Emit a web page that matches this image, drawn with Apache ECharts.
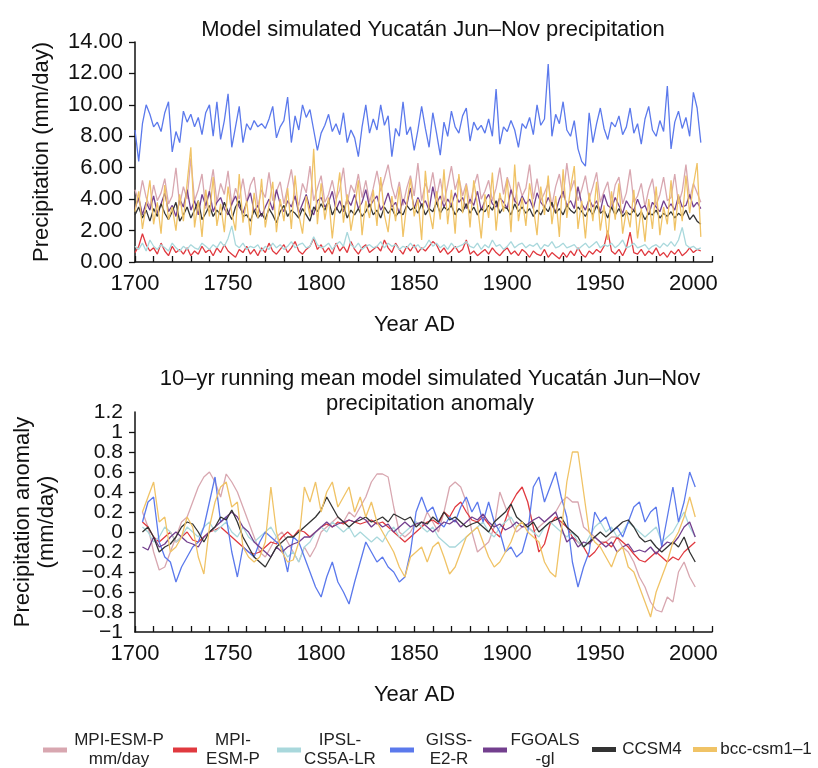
<!DOCTYPE html>
<html>
<head>
<meta charset="utf-8">
<title>Yucatán Jun-Nov precipitation</title>
<script src="https://cdn.jsdelivr.net/npm/echarts@6/dist/echarts.min.js"></script>
<style>
html, body { margin: 0; padding: 0; background: #fff; }
#main { width: 818px; height: 768px; }
</style>
</head>
<body>
<div id="main"></div>
<script>
/***
 * Model simulated Yucatán Jun-Nov precipitation (two panels)
 */

var seriesNames = ['MPI-ESM-P mm/day', 'MPI-ESM-P', 'IPSL-CS5A-LR', 'GISS-E2-R', 'FGOALS-gl', 'CCSM4', 'bcc-csm1-1'];
var legendLines = [['MPI-ESM-P', 'mm/day'], ['MPI-', 'ESM-P'], ['IPSL-', 'CS5A-LR'], ['GISS-', 'E2-R'], ['FGOALS', '-gl'], ['CCSM4'], ['bcc-csm1–1']];
var lineColors = ['#d8a7b0', '#e0393f', '#a9d8dc', '#5b79ec', '#733f8e', '#333333', '#f0c366'];

// years of the upper panel (every 2nd year)
var topYears = [
  1700,1702,1704,1706,1708, 1710,1712,1714,1716,1718, 1720,1722,1724,1726,1728, 1730,1732,1734,1736,1738,
  1740,1742,1744,1746,1748, 1750,1752,1754,1756,1758, 1760,1762,1764,1766,1768, 1770,1772,1774,1776,1778,
  1780,1782,1784,1786,1788, 1790,1792,1794,1796,1798, 1800,1802,1804,1806,1808, 1810,1812,1814,1816,1818,
  1820,1822,1824,1826,1828, 1830,1832,1834,1836,1838, 1840,1842,1844,1846,1848, 1850,1852,1854,1856,1858,
  1860,1862,1864,1866,1868, 1870,1872,1874,1876,1878, 1880,1882,1884,1886,1888, 1890,1892,1894,1896,1898,
  1900,1902,1904,1906,1908, 1910,1912,1914,1916,1918, 1920,1922,1924,1926,1928, 1930,1932,1934,1936,1938,
  1940,1942,1944,1946,1948, 1950,1952,1954,1956,1958, 1960,1962,1964,1966,1968, 1970,1972,1974,1976,1978,
  1980,1982,1984,1986,1988, 1990,1992,1994,1996,1998, 2000,2002,2004
];

// Jun-Nov precipitation, mm/day
var topMpiMm = [
  4.6,3.8,5.2,4.1,3.5, 4.9,3.9,4.4,5.3,3.7, 4.2,6.0,3.6,4.8,4.0, 6.6,3.9,4.6,5.6,3.4,
  4.5,5.9,3.8,5.0,4.3, 5.8,3.6,4.7,4.0,5.3, 3.8,4.9,5.4,3.5,4.6, 4.1,5.7,3.9,4.5,5.1,
  3.7,4.8,5.9,4.2,3.6, 5.0,4.4,6.1,3.9,4.7, 5.5,3.8,4.3,5.2,4.0, 4.6,6.0,3.7,4.9,4.4,
  5.6,4.1,5.2,3.8,4.7, 5.8,4.5,5.3,6.2,4.8, 4.0,5.1,3.6,4.7,5.5, 4.2,6.3,3.9,5.0,4.4,
  5.7,4.1,5.3,3.8,4.9, 6.1,4.6,5.4,4.2,5.0, 3.7,4.8,5.6,4.0,4.5, 5.2,3.9,4.7,6.0,4.3,
  5.4,4.6,3.8,5.1,4.2, 4.7,6.2,4.0,5.3,3.9, 4.4,5.0,3.6,4.8,5.6, 4.1,6.3,4.5,5.2,3.9,
  4.6,5.5,4.0,4.8,5.7, 3.8,4.5,5.1,3.6,4.9, 5.4,3.7,4.4,5.9,3.8, 4.2,5.0,3.5,4.6,5.3,
  3.6,4.3,5.4,3.9,4.1, 5.6,3.7,4.5,6.2,4.0, 5.0,4.4,3.8
];
var topMpi = [
  0.6,1.0,1.8,1.1,0.7, 0.9,0.5,1.2,0.7,0.4, 1.0,0.6,0.8,0.5,0.9, 0.4,0.7,0.5,1.0,0.6,
  0.8,0.4,0.9,0.6,1.1, 0.7,0.5,0.3,0.8,0.6, 1.0,0.5,0.8,0.4,0.9, 0.6,1.2,0.7,0.5,0.8,
  1.1,0.6,0.9,1.3,0.7, 0.5,0.8,1.0,1.5,0.8, 1.1,0.6,0.9,0.5,1.2, 0.7,1.0,0.6,1.3,0.8,
  0.5,0.9,1.1,0.6,0.8, 1.0,0.7,1.4,0.9,0.6, 1.2,0.8,0.5,1.0,0.7, 1.1,0.6,0.9,0.7,1.0,
  1.3,1.1,0.6,0.9,0.5, 0.7,1.0,0.6,0.8,1.4, 0.5,0.7,0.4,0.6,0.8, 0.5,0.9,0.6,0.4,0.7,
  0.9,0.5,0.7,0.4,0.8, 0.6,0.3,0.7,0.5,0.4, 0.8,0.3,0.6,0.4,0.2, 0.6,0.3,0.7,0.4,0.9,
  0.5,0.3,0.7,0.5,0.8, 0.6,1.0,2.0,0.7,0.5, 0.8,0.4,0.9,1.9,0.6, 0.5,0.8,0.4,0.7,0.5,
  0.9,0.4,0.6,0.3,0.7, 0.5,0.8,0.4,0.6,0.9, 0.6,0.8,0.7
];
var topIpsl = [
  1.0,0.8,1.2,0.7,1.4, 1.0,0.8,1.1,0.9,0.7, 1.2,0.9,0.7,1.0,0.8, 1.1,0.9,0.8,1.2,1.0,
  0.8,1.1,0.9,1.3,1.0, 1.5,2.3,1.1,0.9,1.2, 0.8,1.0,0.9,1.1,0.7, 1.0,0.8,1.2,0.9,1.1,
  0.8,1.0,1.3,0.9,1.1, 1.2,0.9,1.0,1.6,1.1, 0.9,1.0,1.2,0.8,1.1, 1.3,1.0,1.9,1.1,0.9,
  1.2,0.8,1.0,1.1,0.9, 1.0,1.3,0.9,1.2,1.0, 1.1,0.8,1.0,0.9,1.2, 0.9,1.1,0.8,1.0,1.4,
  1.0,1.2,0.9,1.1,0.8, 1.2,0.9,1.0,1.1,1.3, 1.0,0.9,1.2,0.8,1.1, 0.9,1.4,1.0,1.1,0.8,
  1.0,1.3,0.9,1.1,1.2, 0.9,1.1,1.0,1.2,0.8, 1.1,1.0,1.3,0.9,1.0, 1.2,0.9,1.0,1.1,0.8,
  1.0,1.2,0.9,1.1,1.3, 0.9,1.1,1.0,1.2,0.9, 1.1,1.4,0.9,1.0,1.2, 0.9,1.0,1.1,0.8,1.0,
  1.1,0.9,1.2,1.0,1.3, 1.0,1.4,2.2,1.1,0.9, 1.0,0.8,0.9
];
var topGiss = [
  8.4,6.4,8.8,10.0,9.4, 8.6,8.9,8.3,9.5,10.2, 7.0,8.3,7.6,9.6,8.9, 9.4,8.6,9.2,8.1,9.5,
  10.0,8.0,10.2,7.8,9.0, 10.7,7.3,8.6,9.9,7.6, 8.8,8.4,9.0,8.6,8.8, 8.5,9.1,9.9,7.9,8.6,
  9.0,10.5,7.6,9.3,8.4, 10.0,9.2,9.7,8.4,7.1, 8.2,8.7,9.4,8.3,8.8, 8.1,9.5,7.6,8.4,7.9,
  6.7,8.6,10.0,8.2,9.1, 8.4,10.0,8.7,9.3,6.7, 8.5,8.0,10.2,8.1,8.6, 7.1,8.4,9.9,8.5,7.3,
  9.5,8.2,6.8,8.9,8.0, 9.6,8.6,8.2,9.3,9.8, 7.7,8.9,8.4,8.7,8.2, 9.1,8.0,11.0,7.5,8.6,
  8.3,9.0,8.4,7.3,8.8, 8.5,9.2,8.1,10.0,8.7, 9.1,12.6,8.0,9.4,8.8, 10.2,8.4,8.0,9.0,7.2,
  6.4,6.1,9.5,7.6,8.8, 9.8,8.5,7.8,8.9,8.6, 9.3,8.1,8.6,9.8,8.2, 8.8,7.5,9.1,9.9,8.4,
  8.0,9.0,8.3,11.2,7.2, 8.9,9.6,8.5,9.2,8.0, 10.8,9.8,7.6
];
var topFgoals = [
  3.4,4.1,3.0,3.8,3.3, 4.2,3.1,3.7,4.4,3.2, 3.6,2.9,4.0,3.5,4.6, 3.3,3.9,3.0,4.3,3.6,
  4.5,3.2,3.8,4.1,3.4, 3.0,3.7,4.2,3.5,3.1, 3.8,4.4,3.2,3.6,2.9, 3.5,4.0,3.3,4.6,3.7,
  3.2,3.9,3.5,4.2,3.1, 3.7,4.3,3.4,3.0,3.9, 4.1,3.5,3.8,4.5,3.3, 3.9,3.2,4.0,3.6,4.3,
  3.4,3.8,4.6,3.5,3.9, 4.2,3.3,3.7,4.4,3.5, 3.8,3.1,4.0,3.6,4.7, 3.4,4.1,3.6,3.9,3.3,
  4.8,3.7,4.2,3.5,4.0, 3.6,4.4,3.8,4.1,3.4, 4.0,3.6,4.5,3.3,3.9, 4.3,3.7,3.5,4.1,3.8,
  3.4,4.6,3.9,3.6,4.2, 3.7,4.0,3.4,4.4,3.8, 3.5,4.1,3.6,3.2,4.0, 4.5,3.6,3.9,3.4,4.8,
  3.7,3.3,4.0,3.5,3.9, 3.2,4.3,3.6,3.4,4.1, 3.6,3.1,3.9,3.5,3.3, 4.0,3.4,3.6,3.0,3.8,
  3.5,3.2,3.9,3.4,3.7, 3.3,4.2,3.5,3.6,4.3, 3.5,3.8,3.4
];
var topCcsm4 = [
  3.0,3.5,2.8,3.3,2.6, 3.4,2.9,3.7,3.1,2.7, 3.2,3.8,2.6,3.0,3.5, 2.8,3.3,3.9,2.7,3.1,
  3.6,2.9,3.3,3.0,3.8, 3.2,2.7,3.5,3.9,2.9, 3.0,2.6,3.3,2.8,3.1, 2.7,3.4,3.0,2.5,3.2,
  3.6,2.9,3.3,3.1,2.8, 3.4,3.0,2.6,3.5,3.2, 3.7,3.3,3.9,3.0,3.5, 3.1,3.6,2.8,3.3,3.0,
  3.4,2.9,3.2,3.7,3.0, 3.3,2.8,3.5,3.1,3.4, 2.9,3.2,3.0,3.6,3.3, 3.5,3.1,3.7,3.0,3.4,
  3.2,3.8,3.1,3.5,3.3, 3.6,3.0,3.4,3.2,3.7, 3.1,3.5,3.0,3.4,3.2, 3.6,3.3,3.9,3.1,3.5,
  3.4,3.0,3.7,3.2,3.5, 3.1,3.4,2.9,3.3,3.0, 3.5,3.2,3.8,3.1,3.4, 3.0,3.6,3.3,3.1,3.5,
  3.2,2.9,3.4,3.0,3.6, 3.1,3.3,2.8,3.5,3.0, 3.4,2.9,3.2,3.0,3.3, 2.9,3.2,2.7,3.1,3.0,
  3.3,2.8,3.1,2.9,3.2, 2.8,3.1,2.9,3.3,2.7, 3.0,2.6,2.4
];
var topBcc = [
  3.2,4.5,2.1,3.6,5.2, 2.4,3.8,1.8,4.9,2.7, 3.5,2.0,4.3,2.6,5.0, 7.3,2.2,3.9,1.6,4.6,
  2.9,5.4,2.3,3.7,1.9, 4.8,3.1,2.0,5.6,2.5, 3.9,1.7,4.4,2.8,5.3, 2.2,3.6,5.1,1.9,4.0,
  2.6,4.7,2.1,5.5,3.0, 1.8,4.2,2.9,7.2,2.4, 5.0,2.7,4.1,1.5,3.8, 5.7,2.5,4.3,2.0,3.4,
  5.2,1.7,3.9,2.8,4.6, 2.3,5.4,3.0,1.9,4.2, 2.6,4.8,1.6,3.7,5.3, 2.9,4.0,1.4,5.8,3.3,
  2.1,4.5,2.7,5.9,2.4, 4.6,1.8,5.6,3.1,4.9, 2.2,5.2,3.6,1.5,4.3, 2.8,5.7,2.0,4.4,3.2,
  5.3,1.9,6.2,2.6,4.1, 2.3,5.0,3.5,1.7,4.8, 3.0,5.5,2.4,4.2,1.6, 5.9,2.8,4.7,6.1,2.1,
  3.9,1.5,4.4,2.6,5.1, 2.0,3.6,1.4,4.5,2.7, 5.0,1.8,3.3,2.2,4.6, 1.5,3.4,1.3,4.0,2.1,
  4.8,1.7,3.5,2.4,5.2, 2.0,4.3,2.6,5.5,3.1, 4.9,6.3,1.6
];

// years of the lower panel (10-yr running mean, every 3rd year)
var anoYears = [
  1704,1707,1710,1713,1716,1719,1722,1725,1728,1731,
  1734,1737,1740,1743,1746,1749,1752,1755,1758,1761,
  1764,1767,1770,1773,1776,1779,1782,1785,1788,1791,
  1794,1797,1800,1803,1806,1809,1812,1815,1818,1821,
  1824,1827,1830,1833,1836,1839,1842,1845,1848,1851,
  1854,1857,1860,1863,1866,1869,1872,1875,1878,1881,
  1884,1887,1890,1893,1896,1899,1902,1905,1908,1911,
  1914,1917,1920,1923,1926,1929,1932,1935,1938,1941,
  1944,1947,1950,1953,1956,1959,1962,1965,1968,1971,
  1974,1977,1980,1983,1986,1989,1992,1995,1998,2001
];

// precipitation anomaly, mm/day
var anoMpiMm = [
  0.2,0.05,-0.2,-0.38,-0.35,-0.2,-0.05,0.1,0.15,0.3,
  0.45,0.55,0.6,0.5,0.35,0.58,0.5,0.4,0.25,0.1,
  -0.05,-0.2,-0.25,-0.15,-0.05,0.0,-0.1,-0.2,-0.3,-0.15,
  -0.25,-0.15,0.0,0.05,0.1,0.15,0.1,0.2,0.15,0.25,
  0.35,0.5,0.58,0.58,0.55,0.25,0.0,-0.05,0.0,0.1,
  0.05,0.2,0.1,0.0,0.2,0.45,0.5,0.45,0.3,0.0,
  -0.2,-0.15,-0.1,0.05,0.4,0.25,0.1,0.0,0.05,0.05,
  0.0,0.05,0.1,0.15,0.2,0.3,0.35,0.3,0.3,0.05,
  0.0,-0.05,-0.1,-0.1,-0.05,-0.05,-0.15,-0.2,-0.3,-0.45,
  -0.55,-0.7,-0.78,-0.8,-0.65,-0.7,-0.4,-0.3,-0.45,-0.55
];
var anoMpi = [
  0.1,0.05,-0.05,-0.1,-0.05,0.0,-0.1,-0.05,0.0,-0.08,
  -0.1,-0.05,0.0,0.02,0.05,0.0,-0.05,-0.1,-0.15,-0.2,
  -0.22,-0.2,-0.15,-0.1,-0.12,-0.05,0.0,-0.05,0.02,0.0,
  -0.05,0.0,0.05,0.08,0.05,0.1,0.08,0.12,0.1,0.08,
  0.1,0.12,0.08,0.1,0.05,0.0,-0.05,-0.1,-0.05,0.0,
  0.05,0.1,0.12,0.08,0.2,0.15,0.25,0.3,0.2,0.12,
  0.1,0.15,0.08,0.0,-0.05,0.12,0.28,0.38,0.45,0.3,
  0.05,-0.2,-0.12,0.08,0.15,0.1,0.05,-0.05,-0.1,-0.15,
  -0.25,-0.2,-0.12,-0.1,-0.15,-0.05,-0.1,-0.15,-0.22,-0.28,
  -0.3,-0.25,-0.2,-0.25,-0.3,-0.25,-0.28,-0.2,-0.15,-0.1
];
var anoIpsl = [
  0.05,0.0,-0.1,-0.05,0.05,0.0,-0.1,-0.05,0.05,0.0,
  -0.05,0.05,0.1,0.0,0.05,0.1,0.0,-0.05,0.05,-0.05,
  -0.1,-0.05,0.0,0.05,-0.05,-0.15,-0.25,-0.2,-0.3,-0.15,
  -0.1,0.0,0.05,0.0,0.1,0.05,0.0,0.05,-0.05,0.0,
  -0.05,-0.1,-0.05,-0.1,0.0,0.05,-0.05,0.0,0.05,0.1,
  0.05,0.0,0.05,-0.05,-0.1,-0.15,-0.15,-0.1,-0.05,0.0,
  0.05,0.1,0.0,-0.05,0.05,0.1,0.15,0.05,0.1,0.05,
  0.0,-0.05,0.05,0.1,0.05,0.0,-0.05,0.0,-0.1,-0.15,
  -0.05,0.05,0.1,0.0,0.05,-0.05,0.0,0.1,0.05,0.0,
  -0.05,0.0,0.05,-0.1,-0.05,0.0,0.1,0.2,0.05,-0.05
];
var anoGiss = [
  0.1,0.3,0.35,-0.1,-0.25,-0.3,-0.5,-0.35,-0.25,-0.15,
  -0.1,0.05,0.3,0.55,0.1,0.15,-0.2,-0.45,-0.15,-0.2,
  -0.25,-0.1,0.0,-0.05,-0.1,-0.15,-0.4,-0.05,-0.1,-0.25,
  -0.4,-0.55,-0.65,-0.45,-0.3,-0.5,-0.6,-0.72,-0.5,-0.3,
  -0.1,-0.2,-0.3,-0.25,-0.35,-0.4,-0.5,-0.45,-0.2,0.2,
  0.35,0.2,0.25,0.1,0.05,0.15,0.1,0.25,0.35,0.2,
  0.3,0.1,0.3,0.1,0.0,-0.2,-0.15,-0.25,-0.2,0.0,
  0.45,0.55,0.3,0.45,0.6,0.35,0.15,-0.3,-0.55,-0.35,
  -0.2,0.2,0.1,0.15,0.0,0.05,-0.05,0.1,0.25,0.3,
  0.1,0.2,0.25,-0.15,0.15,0.45,0.1,0.3,0.6,0.45
];
var anoFgoals = [
  -0.15,-0.18,-0.05,-0.15,-0.12,-0.05,0.0,-0.05,-0.1,-0.12,
  -0.15,-0.05,0.0,0.05,0.1,0.15,0.2,0.15,0.05,0.0,
  -0.1,-0.15,-0.2,-0.25,-0.15,-0.2,-0.15,-0.12,-0.1,-0.05,
  -0.05,0.0,0.05,0.1,0.05,0.08,0.1,0.12,0.1,0.15,
  0.12,0.05,0.1,0.05,0.08,0.0,0.05,0.1,0.05,0.08,
  0.1,0.05,0.0,0.05,0.1,0.08,0.12,0.05,0.1,0.15,
  0.12,0.18,0.1,0.05,0.08,0.02,0.05,0.1,0.05,0.08,
  0.12,0.15,0.1,0.15,0.2,0.05,-0.1,-0.05,-0.15,-0.1,
  -0.12,-0.05,-0.1,-0.15,-0.1,-0.2,-0.15,-0.12,-0.2,-0.18,
  -0.2,-0.15,-0.22,-0.15,-0.1,-0.12,-0.05,0.05,0.1,-0.05
];
var anoCcsm4 = [
  0.0,0.05,-0.05,-0.2,-0.15,-0.12,-0.05,0.05,0.1,0.08,
  0.0,-0.1,0.0,0.05,0.15,0.12,0.22,0.1,-0.05,-0.15,
  -0.25,-0.3,-0.35,-0.25,-0.15,-0.1,-0.05,-0.05,0.0,0.05,
  0.1,0.15,0.22,0.35,0.25,0.15,0.1,0.05,0.1,0.12,
  0.15,0.1,0.12,0.15,0.1,0.18,0.15,0.12,0.15,0.05,
  0.1,0.08,0.15,0.1,0.2,0.12,0.15,0.1,0.05,0.08,
  0.1,0.05,0.0,0.1,0.15,0.2,0.28,0.15,0.1,0.05,
  0.1,0.0,0.05,0.1,0.12,0.15,0.05,0.0,-0.05,-0.15,
  -0.1,-0.05,0.0,-0.05,0.0,0.05,0.1,0.12,0.05,-0.05,
  -0.1,-0.08,-0.15,-0.2,-0.15,-0.1,-0.15,-0.05,-0.2,-0.3
];
var anoBcc = [
  0.2,0.35,0.5,0.1,0.15,-0.2,-0.15,-0.05,0.15,0.05,
  -0.25,-0.42,0.05,0.3,0.45,0.5,0.25,0.3,-0.15,-0.25,
  -0.3,-0.25,-0.1,0.45,0.0,-0.2,-0.3,-0.28,-0.1,0.45,
  0.3,0.5,0.2,0.4,0.5,0.25,0.35,0.45,0.2,0.35,
  0.15,0.3,0.1,0.0,-0.1,-0.2,-0.35,-0.45,-0.25,-0.2,
  -0.15,-0.3,-0.15,-0.1,-0.25,-0.42,-0.35,-0.2,-0.05,0.0,
  0.05,-0.1,-0.25,-0.35,-0.3,-0.2,-0.1,0.05,0.1,0.0,
  -0.05,-0.1,-0.3,-0.4,-0.45,0.0,0.5,0.8,0.8,0.4,
  0.0,-0.1,-0.15,-0.25,-0.35,-0.2,-0.15,-0.35,-0.4,-0.55,
  -0.7,-0.85,-0.6,-0.45,-0.3,-0.1,0.0,0.15,0.35,0.15
];

var topValues = [topMpiMm, topMpi, topIpsl, topGiss, topFgoals, topCcsm4, topBcc];
var anoValues = [anoMpiMm, anoMpi, anoIpsl, anoGiss, anoFgoals, anoCcsm4, anoBcc];

// legend placement (left edge of icon, box width of the centred text)
var legendLeft = [43, 173, 277, 390, 483, 592, 693];
var legendTextWidth = [94, 62, 68, 60, 66, 62, 88];

var FONT = 'Liberation Sans, Arial, Helvetica, sans-serif';

function toPairs(years, vals) {
    var out = [];
    for (var i = 0; i < vals.length; i++) {
        out.push([years[i], vals[i]]);
    }
    return out;
}

// anomaly tick text: 1.2, 1, 0.8 ... 0 ... −0.8, −1
function anoLabel(v) {
    var r = Math.round(v * 10) / 10;
    if (r === 0) { return '0'; }
    return r < 0 ? '−' + String(Math.abs(r)) : String(r);
}

function xAxisFor(gridIndex) {
    return {
        gridIndex: gridIndex,
        type: 'value',
        min: 1700,
        max: 2010,
        interval: 10,
        name: 'Year AD',
        nameLocation: 'middle',
        nameGap: 52,
        nameTextStyle: { fontSize: 22, color: '#111', fontFamily: FONT, padding: [0, 18, 0, 0] },
        axisLine: { show: true, onZero: false, lineStyle: { color: '#111', width: 1.5 } },
        axisTick: { show: true, inside: true, length: 6, lineStyle: { color: '#111', width: 1.3 } },
        axisLabel: {
            fontSize: 22, color: '#111', fontFamily: FONT, margin: 11,
            formatter: function (v) { return (v % 50 === 0 && v <= 2000) ? String(v) : ''; }
        },
        splitLine: { show: false }
    };
}

function initChart() {
    var myChart = echarts.init(document.getElementById('main'));
    window.onresize = myChart.resize;

    var series = [];
    for (var i = 0; i < seriesNames.length; i++) {
        series.push({
            name: seriesNames[i], type: 'line', xAxisIndex: 0, yAxisIndex: 0,
            data: toPairs(topYears, topValues[i]),
            showSymbol: false, silent: true,
            color: lineColors[i],
            lineStyle: { width: 1.3, color: lineColors[i] }
        });
        series.push({
            name: seriesNames[i], type: 'line', xAxisIndex: 1, yAxisIndex: 1,
            data: toPairs(anoYears, anoValues[i]),
            showSymbol: false, silent: true,
            color: lineColors[i],
            lineStyle: { width: 1.3, color: lineColors[i] }
        });
    }

    // one legend block per model, text centred under two lines
    var legends = [];
    for (var k = 0; k < seriesNames.length; k++) {
        var lines = legendLines[k];
        var rich = { t: { width: legendTextWidth[k], align: 'center', fontSize: 17, lineHeight: 19, color: '#222', fontFamily: FONT } };
        legends.push({
            data: [seriesNames[k]],
            left: legendLeft[k],
            top: lines.length > 1 ? 732 : 741,
            icon: 'rect',
            itemWidth: 24,
            itemHeight: 5,
            selectedMode: false,
            padding: 0,
            textStyle: { rich: rich, fontSize: 17, fontFamily: FONT },
            formatter: (function (ls) {
                return function () {
                    return ls.map(function (s) { return '{t|' + s + '}'; }).join('\n');
                };
            })(lines)
        });
    }

    var option = {
        animation: false,
        backgroundColor: '#fff',
        title: [{
            text: 'Model simulated Yucatán Jun–Nov precipitation',
            left: 428, top: 14, textAlign: 'center',
            textStyle: { fontSize: 22, fontWeight: 'normal', color: '#111', fontFamily: FONT }
        }, {
            text: '10–yr running mean model simulated Yucatán Jun–Nov\nprecipitation anomaly',
            left: 425, top: 361, textAlign: 'center',
            textStyle: { fontSize: 22, fontWeight: 'normal', color: '#111', fontFamily: FONT, lineHeight: 25 }
        }],
        legend: legends,
        grid: [
            { left: 135, top: 42, width: 577, height: 220 },
            { left: 135, top: 412, width: 577, height: 220 }
        ],
        xAxis: [xAxisFor(0), xAxisFor(1)],
        yAxis: [{
            gridIndex: 0, type: 'value', min: 0, max: 14, interval: 2,
            name: 'Precipitation (mm/day)', nameLocation: 'middle', nameGap: 82, nameRotate: 90,
            nameTextStyle: { fontSize: 22, color: '#111', fontFamily: FONT },
            axisLine: { show: true, lineStyle: { color: '#111', width: 1.5 } },
            axisTick: { show: true, inside: false, length: 6, lineStyle: { color: '#111', width: 1.3 } },
            axisLabel: { fontSize: 22, color: '#111', fontFamily: FONT, margin: 12,
                showMinLabel: true, showMaxLabel: true,
                formatter: function (v) { return v.toFixed(2); } },
            splitLine: { show: false }
        }, {
            // inner labels −0.8 .. 1
            gridIndex: 1, type: 'value', min: -1, max: 1.2, interval: 0.2, position: 'left', offset: 0,
            name: 'Precipitation anomaly\n(mm/day)', nameLocation: 'middle', nameGap: 76, nameRotate: 90,
            nameTextStyle: { fontSize: 22, color: '#111', fontFamily: FONT, lineHeight: 24 },
            axisLine: { show: true, lineStyle: { color: '#111', width: 1.5 } },
            axisTick: { show: true, inside: false, length: 6, lineStyle: { color: '#111', width: 1.3 } },
            axisLabel: { fontSize: 21, color: '#111', fontFamily: FONT, margin: 12,
                showMinLabel: false, showMaxLabel: false, formatter: anoLabel },
            splitLine: { show: false }
        }, {
            // end labels 1.2 and −1 only
            gridIndex: 1, type: 'value', min: -1, max: 1.2, interval: 0.2, position: 'left', offset: 0,
            axisLine: { show: false },
            axisTick: { show: false },
            axisLabel: { fontSize: 21, color: '#111', fontFamily: FONT, margin: 12,
                showMinLabel: true, showMaxLabel: true,
                formatter: function (v) {
                    return (v < -0.99 || v > 1.19) ? anoLabel(v) : '';
                } },
            splitLine: { show: false }
        }],
        series: series
    };
    myChart.setOption(option);
}

initChart();
</script>
</body>
</html>
